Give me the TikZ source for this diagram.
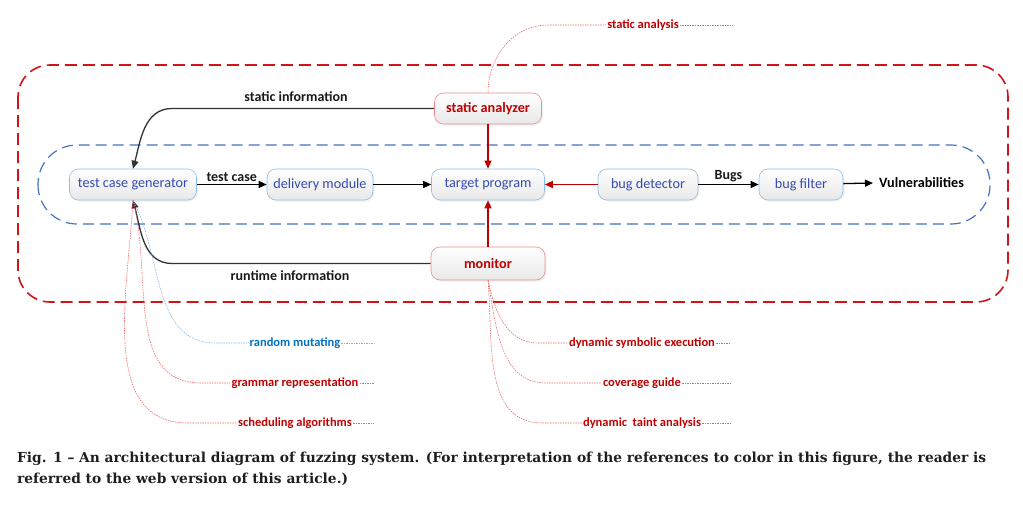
\documentclass[tikz,border=0pt]{standalone}
\usepackage{fontspec}
\setmainfont{Carlito}
\newfontfamily\capfont{DejaVu Serif}
\usetikzlibrary{arrows.meta,shadows}
\definecolor{dred}{RGB}{192,0,0}
\definecolor{bred}{RGB}{210,20,25}
\definecolor{nblue}{RGB}{55,75,175}
\definecolor{dblue}{RGB}{68,114,196}
\definecolor{lblue}{RGB}{0,112,192}
\definecolor{pink}{RGB}{235,100,100}
\definecolor{pblue}{RGB}{130,178,225}
\definecolor{bborder}{RGB}{140,190,230}
\definecolor{rborder}{RGB}{236,140,140}
\definecolor{dgray}{RGB}{50,50,50}
\tikzset{
  box/.style={rounded corners=9pt, minimum height=31pt, inner sep=0pt,
    top color=white, bottom color=black!9, line width=0.6pt,
    drop shadow={opacity=0.12, shadow xshift=1.5pt, shadow yshift=-1.5pt},
    font=\fontsize{14.2}{16}\selectfont},
  bluebox/.style={box, draw=bborder, text=nblue},
  redbox/.style={box, draw=rborder, text=dred, font=\fontsize{14.2}{16}\selectfont\bfseries},
  flow/.style={line width=1.3pt, -{Triangle[length=8pt,width=7pt]}},
  blackflow/.style={flow, draw=black},
  redflow/.style={flow, draw=dred},
  infoflow/.style={flow, draw=dgray},
  lbl/.style={font=\fontsize{14}{16}\selectfont\bfseries, text=black!90},
  note/.style={font=\fontsize{12.5}{14}\selectfont\bfseries, inner sep=1pt},
  rednote/.style={note, text=dred},
  bluenote/.style={note, text=lblue},
  redthin/.style={draw=pink, line width=0.55pt, dash pattern=on 1.5pt off 1pt},
  bluethin/.style={draw=pblue, line width=0.55pt, dash pattern=on 1.5pt off 1pt},
}
\begin{document}
\begin{tikzpicture}[x=1pt,y=-1pt]
\useasboundingbox (0,0) rectangle (1023,506);
% containers
\draw[bred, line width=1.6pt, dash pattern=on 12pt off 6pt, rounded corners=32pt]
  (18,65) rectangle (1008,302);
\draw[dblue, line width=1.2pt, dash pattern=on 11pt off 6pt, rounded corners=39pt]
  (38,145) rectangle (990,224);
% nodes
\node[bluebox, minimum width=127pt] (tcg) at (133,184.5) {test case generator};
\node[bluebox, minimum width=106pt] (dm) at (320,184.5) {delivery module};
\node[bluebox, minimum width=113pt] (tp) at (488,184.5) {target program};
\node[bluebox, minimum width=100pt] (bd) at (648,184.5) {bug detector};
\node[bluebox, minimum width=84pt] (bf) at (801,184.5) {bug filter};
\node[redbox, minimum width=107pt] (sa) at (488,108.5) {static analyzer};
\node[redbox, minimum width=114pt, minimum height=33pt] (mon) at (488,263.5) {monitor};
\node[font=\fontsize{14.2}{16}\selectfont\bfseries, anchor=west, inner sep=0pt] (vul) at (879,183) {Vulnerabilities};
% flows
\draw[blackflow] (tcg) -- node[lbl, above=-1pt] {test case} (dm);
\draw[blackflow] (dm) -- (tp);
\draw[redflow] (bd) -- (tp);
\draw[blackflow] (bd) -- node[lbl, above=-1pt] {Bugs} (bf);
\draw[blackflow] (bf) -- ([xshift=-6pt]vul.west);
\draw[redflow] (sa) -- (tp);
\draw[redflow] (mon) -- (tp);
\coordinate (si) at (172,108.5);
\coordinate (ri) at (172,263.5);
\draw[infoflow] (sa.west) -- (si) to[out=180,in=75] (tcg.north);
\draw[infoflow] (mon.west) -- (ri) to[out=180,in=-75] (tcg.south);
\node[lbl] (silbl) at (296,97) {static information};
\node[lbl] (rilbl) at (290,276) {runtime information};
% notes: static analysis
\node[rednote] (nsa) at (643,25) {static analysis};
\coordinate (nsa1) at (548,25);
\coordinate (nsa2) at (733,25);
\draw[redthin] (sa.north) to[out=90,in=180] (nsa1) -- (nsa.west);
\draw[redthin] (nsa.east) -- (nsa2);
% notes: test case generator
\node[bluenote] (nrm) at (295,343) {random mutating};
\node[rednote] (ngr) at (295,383) {grammar representation};
\node[rednote] (nsc) at (295,423) {scheduling algorithms};
\coordinate (nrm1) at (216,343);
\coordinate (ngr1) at (201,383);
\coordinate (nsc1) at (188,423);
\coordinate (nrm2) at (374,343);
\coordinate (ngr2) at (374,383);
\coordinate (nsc2) at (374,423);
\draw[bluethin] (tcg.south) to[out=-62,in=180] (nrm1) -- (nrm.west);
\draw[bluethin] (nrm.east) -- (nrm2);
\draw[redthin] (tcg.south) to[out=-75,in=180] (ngr1) -- (ngr.west);
\draw[redthin] (ngr.east) -- (ngr2);
\draw[redthin] (tcg.south) to[out=-93,in=180] (nsc1) -- (nsc.west);
\draw[redthin] (nsc.east) -- (nsc2);
% notes: monitor
\node[rednote] (nds) at (642,343) {dynamic symbolic execution};
\node[rednote] (ncg) at (642,383) {coverage guide};
\node[rednote] (ndt) at (642,423) {dynamic\ \ taint analysis};
\coordinate (nds1) at (538,343);
\coordinate (ncg1) at (546,383);
\coordinate (ndt1) at (542,423);
\coordinate (nds2) at (731,343);
\coordinate (ncg2) at (731,383);
\coordinate (ndt2) at (731,423);
\draw[redthin] (mon.south) to[out=-78,in=180] (nds1) -- (nds.west);
\draw[redthin] (nds.east) -- (nds2);
\draw[redthin] (mon.south) to[out=-80,in=180] (ncg1) -- (ncg.west);
\draw[redthin] (ncg.east) -- (ncg2);
\draw[redthin] (mon.south) to[out=-85,in=180] (ndt1) -- (ndt.west);
\draw[redthin] (ndt.east) -- (ndt2);
% caption
\node[anchor=north west, align=left, inner sep=0pt, text=black!88,
  font=\capfont\fontsize{13.8}{20.5}\selectfont\bfseries] (cap) at (17,452)
  {Fig. 1 – An architectural diagram of fuzzing system. (For interpretation of the references to color in this figure, the reader is\\
   referred to the web version of this article.)};
\end{tikzpicture}
\end{document}
